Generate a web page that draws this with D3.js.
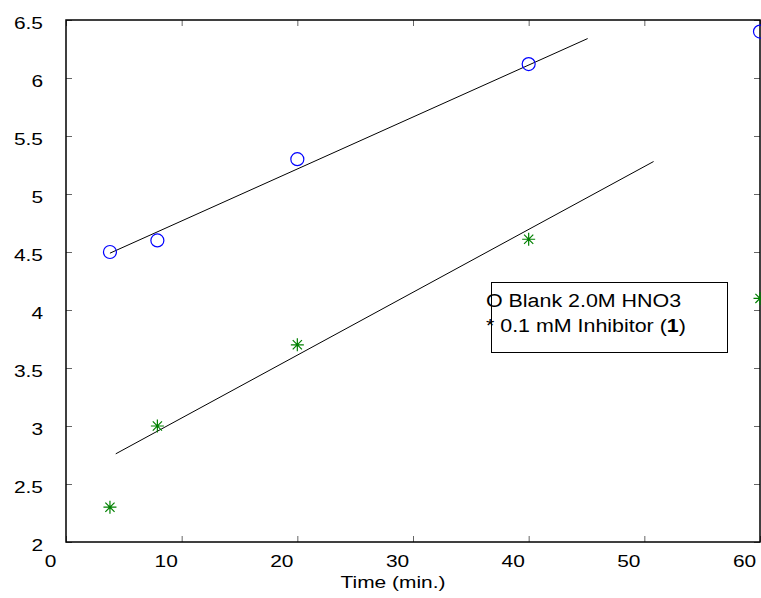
<!DOCTYPE html>
<html>
<head>
<meta charset="utf-8">
<script src="https://cdn.jsdelivr.net/npm/d3@7"></script>
<style>
  body { margin: 0; background: #fff; }
  text { font-family: "Liberation Sans", Arial, sans-serif; }
</style>
</head>
<body>
<div id="chart"></div>
<script>
// data
var times = [3.8, 7.9, 20, 40, 60];
var blank = [4.5, 4.6, 5.3, 6.12, 6.4];
var inhibitor = [2.3, 3.0, 3.7, 4.61, 4.1];
var fitBlank = [[3.8, 4.49], [45.1, 6.34]];
var fitInhibitor = [[4.3, 2.76], [50.8, 5.28]];
var xTicks = [0, 10, 20, 30, 40, 50, 60];
var yTicks = [2, 2.5, 3, 3.5, 4, 4.5, 5, 5.5, 6, 6.5];

var svgWidth = 761;
var svgHeight = 598;
var margin = { top: 20, right: 1, bottom: 56, left: 66 };
var width = svgWidth - margin.left - margin.right;
var height = svgHeight - margin.top - margin.bottom;

// the original text is drawn a bit wider than Arial
var stretch = 1.23;

var svg = d3.select("#chart")
  .append("svg")
  .attr("width", svgWidth)
  .attr("height", svgHeight);

var chartGroup = svg.append("g")
  .attr("transform", `translate(${margin.left}, ${margin.top})`);

var x = d3.scaleLinear().domain([0, 60]).range([0, width]);
var y = d3.scaleLinear().domain([2, 6.5]).range([height, 0]);

// inward ticks on all four sides
function ticks(axis) {
  return function(g) {
    g.call(axis);
    g.select(".domain").remove();
    g.selectAll(".tick line").attr("stroke", "#666");
    g.selectAll(".tick text").attr("fill", "#000").style("font-size", "17px");
  };
}

chartGroup.append("g")
  .attr("transform", `translate(0, ${height})`)
  .call(ticks(d3.axisBottom(x).tickValues(xTicks).tickSize(-6).tickPadding(0).tickFormat(d3.format("d"))))
  .selectAll(".tick text")
  .attr("y", 0)
  .attr("dy", 25)
  .attr("transform", `translate(-16, 0) scale(${stretch}, 1)`);

chartGroup.append("g")
  .call(ticks(d3.axisTop(x).tickValues(xTicks).tickSize(-6).tickFormat("")));

chartGroup.append("g")
  .call(ticks(d3.axisLeft(y).tickValues(yTicks).tickSize(-6).tickPadding(23).tickFormat(d3.format("~g"))))
  .selectAll(".tick text")
  .attr("x", 0)
  .attr("dy", 8)
  .attr("transform", `translate(-23, 0) scale(${stretch}, 1)`);

chartGroup.append("g")
  .attr("transform", `translate(${width}, 0)`)
  .call(ticks(d3.axisRight(y).tickValues(yTicks).tickSize(-6).tickFormat("")));

// frame
chartGroup.append("rect")
  .attr("width", width)
  .attr("height", height)
  .attr("fill", "none")
  .attr("stroke", "#000")
  .attr("stroke-width", 1.5);

// fit lines
var line = d3.line().x(d => x(d[0])).y(d => y(d[1]));
[fitBlank, fitInhibitor].forEach(function(seg) {
  chartGroup.append("path")
    .attr("d", line(seg))
    .attr("fill", "none")
    .attr("stroke", "#000")
    .attr("stroke-width", 1);
});

// blank: open circles
chartGroup.append("g")
  .selectAll("circle")
  .data(times)
  .enter()
  .append("circle")
  .attr("cx", d => x(d))
  .attr("cy", (d, i) => y(blank[i]))
  .attr("r", 6.5)
  .attr("fill", "none")
  .attr("stroke", "#0000ff")
  .attr("stroke-width", 1.2);

// inhibitor: asterisks
var star = "M-6.5,0H6.5M0,-6.5V6.5M-4.6,-4.6L4.6,4.6M-4.6,4.6L4.6,-4.6";
chartGroup.append("g")
  .selectAll("path")
  .data(times)
  .enter()
  .append("path")
  .attr("d", star)
  .attr("transform", (d, i) => `translate(${x(d)}, ${y(inhibitor[i])})`)
  .attr("fill", "none")
  .attr("stroke", "#008000")
  .attr("stroke-width", 1.2);

// legend box
svg.append("rect")
  .attr("x", 491.5)
  .attr("y", 282.5)
  .attr("width", 236)
  .attr("height", 70)
  .attr("fill", "none")
  .attr("stroke", "#000")
  .attr("stroke-width", 1);

svg.append("text")
  .attr("transform", "translate(486, 307) scale(1.19, 1)")
  .style("font-size", "18px")
  .text("O Blank 2.0M HNO3");

var inh = svg.append("text")
  .attr("transform", "translate(486, 332) scale(1.19, 1)")
  .style("font-size", "18px");
inh.append("tspan").text("* 0.1 mM Inhibitor (");
inh.append("tspan").attr("font-weight", "bold").text("1");
inh.append("tspan").text(")");

// axis label
svg.append("text")
  .attr("transform", `translate(393, 588) scale(${stretch}, 1)`)
  .attr("text-anchor", "middle")
  .style("font-size", "17px")
  .text("Time (min.)");
</script>
</body>
</html>
